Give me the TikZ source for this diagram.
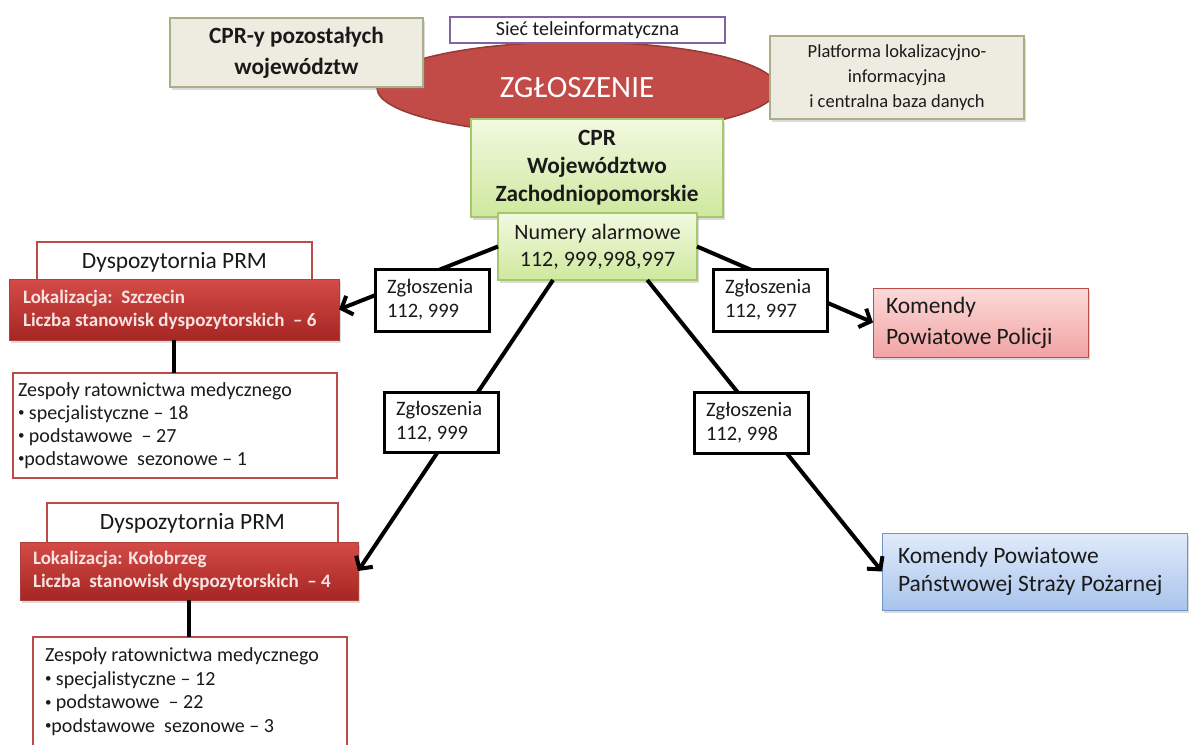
\documentclass[tikz,border=0pt]{standalone}
\usepackage{fontspec}
\setmainfont{Carlito}
\usetikzlibrary{arrows.meta,shadows,calc,shapes.geometric}
\definecolor{beigeF}{HTML}{EEECE1}
\definecolor{beigeB}{HTML}{A9AE86}
\definecolor{purpB}{HTML}{8064A2}
\definecolor{ellF}{HTML}{C24B48}
\definecolor{ellB}{HTML}{963A37}
\definecolor{grnT}{HTML}{F2F9E1}
\definecolor{grnB}{HTML}{CFE89E}
\definecolor{grnD}{HTML}{A6C76A}
\definecolor{redT}{HTML}{D44B47}
\definecolor{redBt}{HTML}{A52623}
\definecolor{redD}{HTML}{B0403D}
\definecolor{redTxt}{HTML}{F9E3E2}
\definecolor{pinkT}{HTML}{FBDADA}
\definecolor{pinkB}{HTML}{F2A3A3}
\definecolor{blueT}{HTML}{E1EBFA}
\definecolor{blueB}{HTML}{A8C4EC}
\definecolor{blueD}{HTML}{7195CB}
\definecolor{txt}{HTML}{1A1A1A}
\definecolor{frameR}{HTML}{BD4B48}
\newcommand{\nsp}{\spaceskip=0pt\xspaceskip=0pt\relax}
\newcommand{\bul}{\raisebox{0.12em}{\fontsize{13}{13}\selectfont•}}
\tikzset{
  bx/.style={rectangle, inner sep=0pt, outer sep=0pt, text=txt},
  sh/.style={drop shadow={opacity=0.28, shadow xshift=2pt, shadow yshift=-3pt}},
  beige/.style={bx, sh, draw=beigeB, fill=beigeF, line width=1.2pt, align=center},
  siecbox/.style={bx, draw=purpB, fill=white, line width=2.2pt, align=center,
    font=\fontsize{20}{22}\selectfont},
  greenbox/.style={bx, sh, draw=grnD, line width=1.2pt, top color=grnT, bottom color=grnB, align=center},
  whitebox/.style={bx, draw=frameR, fill=white, line width=2.2pt, align=center,
    font=\fontsize{23.4}{26}\selectfont},
  redbox/.style={bx, sh, draw=redD, line width=0.8pt, top color=redT, bottom color=redBt,
    text=redTxt, align=left, font=\fontsize{19}{23}\selectfont\bfseries},
  zespbox/.style={bx, draw=frameR, fill=white, line width=2.2pt, align=left,
    font=\fontsize{20}{23}\selectfont},
  zglbox/.style={bx, draw=black, fill=white, line width=3pt, align=left,
    minimum width=114pt, text width=90pt, inner xsep=12pt,
    font=\fontsize{20.5}{24}\selectfont},
  pinkbox/.style={bx, sh, draw=frameR, line width=1pt, top color=pinkT, bottom color=pinkB,
    align=left, font=\fontsize{23.5}{31}\selectfont},
  bluebox/.style={bx, sh, draw=blueD, line width=1pt, top color=blueT, bottom color=blueB,
    align=left, font=\fontsize{23.5}{28}\selectfont},
  arr/.style={line width=4pt, black, -{Straight Barb[length=9pt,width=20pt]}},
  conn/.style={line width=4pt, black},
}
\begin{document}
\begin{tikzpicture}[x=1pt,y=-1pt]
\useasboundingbox (0,0) rectangle (1190,744);
\fill[white] (0,0) rectangle (1190,744);

% top cluster
\node[ellipse, draw=ellB, fill=ellF, line width=1.5pt, minimum width=400pt, minimum height=92pt,
  inner sep=0pt, text=white, font=\fontsize{31}{34}\selectfont] (zgl) at (577,88) {ZGŁOSZENIE};
\node[siecbox, minimum width=275pt, minimum height=26pt] (siec) at (587.5,30) {Sieć teleinformatyczna};
\node[beige, minimum width=253pt, minimum height=69pt, font=\fontsize{23.3}{31}\selectfont\bfseries]
  (cpry) at (296.5,52.5) {CPR-y pozostałych\\województw};
\node[beige, minimum width=254pt, minimum height=83pt, font=\fontsize{18.5}{25}\selectfont]
  (platf) at (897,77.5) {Platforma lokalizacyjno-\\informacyjna\\i centralna baza danych};
\node[greenbox, minimum width=252pt, minimum height=98pt, font=\fontsize{23.3}{28}\selectfont\bfseries]
  (cpr) at (597,168) {CPR\\Województwo\\Zachodniopomorskie};
\node[greenbox, minimum width=199pt, minimum height=67pt, font=\fontsize{22}{27}\selectfont]
  (numery) at (597.5,246.5) {Numery alarmowe\\112, 999,998,997};

% left column
\node[whitebox, minimum width=275pt, minimum height=40pt] (dysp1) at (174.5,262) {Dyspozytornia PRM};
\node[redbox, minimum width=330pt, minimum height=61pt, text width=302pt, inner xsep=14pt]
  (red1) at (174,309.5) {\nsp Lokalizacja:\ \ Szczecin\\Liczba stanowisk dyspozytorskich\ \ – 6};
\node[zespbox, minimum width=324pt, minimum height=105pt, text width=314pt, inner xsep=5pt]
  (zesp1) at (175,425.5) {\nsp Zespoły ratownictwa medycznego\\\bul{} specjalistyczne – 18\\\bul{} podstawowe\ \ – 27\\\bul podstawowe\ \ sezonowe – 1};

\node[whitebox, minimum width=291pt, minimum height=40pt] (dysp2) at (192.5,523) {Dyspozytornia PRM};
\node[redbox, minimum width=338pt, minimum height=58pt, text width=312pt, inner xsep=13pt]
  (red2) at (189,571) {\nsp Lokalizacja: Kołobrzeg\\Liczba\ \ stanowisk dyspozytorskich\ \ – 4};
\node[zespbox, minimum width=314pt, minimum height=133pt] (zesp2) at (190,703.5) {};
\node[bx, anchor=north west, align=left, font=\fontsize{20}{23.5}\selectfont]
  (zesp2t) at (45,648) {Zespoły ratownictwa medycznego\\\bul{} specjalistyczne – 12\\\bul{} podstawowe\ \ – 22\\\bul podstawowe\ \ sezonowe – 3};

% right column
\node[pinkbox, minimum width=215pt, minimum height=69pt, text width=189pt, inner xsep=13pt]
  (policja) at (980.5,322.5) {\nsp Komendy\\Powiatowe Policji};
\node[bluebox, minimum width=305pt, minimum height=77pt, text width=273pt, inner xsep=16pt]
  (psp) at (1034.5,571.5) {\nsp Komendy Powiatowe\\Państwowej Straży Pożarnej};

% connectors
\draw[arr] (numery.west) -- (red1.east);
\draw[arr] ($(numery.south west)!0.553!(numery.south)$) -- (red2.east);
\draw[arr] (numery.east) -- (policja.west);
\draw[arr] ($(numery.south)!0.5!(numery.south east)$) -- (psp.west);
\draw[conn] (red1.south) -- (red1.south |- zesp1.north);
\draw[conn] (red2.south) -- (red2.south |- zesp2.north);

% labels on connectors
\node[zglbox, minimum height=62pt] (zglA) at (432,300) {\nsp Zgłoszenia\\112, 999};
\node[zglbox, minimum height=60pt] (zglB) at (441,422) {\nsp Zgłoszenia\\112, 999};
\node[zglbox, minimum height=62pt] (zgl997) at (770,300) {\nsp Zgłoszenia\\112, 997};
\node[zglbox, minimum height=61pt] (zgl998) at (751,422.5) {\nsp Zgłoszenia\\112, 998};
\end{tikzpicture}
\end{document}
